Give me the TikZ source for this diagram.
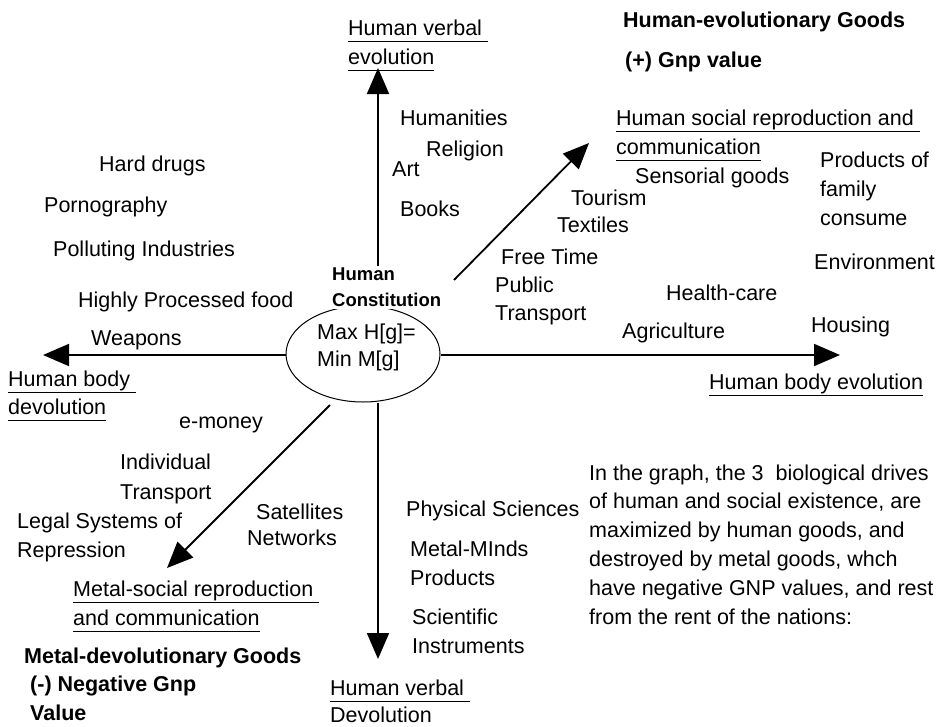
\documentclass[tikz,border=0pt]{standalone}
\usepackage{fontspec}
\setmainfont{Liberation Sans}
\usetikzlibrary{arrows.meta,shapes.geometric}
\newcommand\myul[1]{\underline{\vphantom{gy}#1}}
\begin{document}
\begin{tikzpicture}[x=1pt,y=-1pt,
  t/.style={anchor=base west,inner sep=0pt,font=\fontsize{21.5}{26}\selectfont},
  tb/.style={anchor=base west,inner sep=0pt,font=\fontsize{21.5}{26}\selectfont\bfseries},
  arr/.style={line width=1.8pt,-{Triangle[length=26pt,width=22pt]}}]
\useasboundingbox[fill=white] (0,0) rectangle (937,726);

% central ellipse
\node[draw,ellipse,line width=1pt,minimum width=154pt,minimum height=96pt,inner sep=0pt] (hc) at (363,354) {};
\node[anchor=north west,fill=white,inner sep=2pt,align=left,
      font=\fontsize{18.5}{26}\selectfont\bfseries] (title) at (330,266) {Human\\Constitution};
\node[t] (max) at (317,339) {Max H[g]=};
\node[t] (min) at (317,366) {Min M[g]};

% arrow end points
\coordinate (upT) at (378,68);
\coordinate (downT) at (378,659);
\coordinate (leftT) at (43,355);
\coordinate (rightT) at (840,355);
\coordinate (neS) at (454,280);
\coordinate (neT) at (589,143);
\coordinate (swS) at (330,405);
\coordinate (swT) at (167,568);

\draw[arr] (title.north -| upT) -- (upT);
\draw[arr] (hc.south -| downT) -- (downT);
\draw[arr] (hc.west |- leftT) -- (leftT);
\draw[arr] (hc.east |- rightT) -- (rightT);
\draw[arr] (neS) -- (neT);
\draw[arr] (swS) -- (swT);

% top
\node[t] (hve1) at (348,35) {\myul{Human verbal\ }};
\node[t] (hve2) at (348,64) {\myul{evolution}};
\node[t] (humanities) at (400,125) {Humanities};
\node[t] (religion) at (426,156) {Religion};
\node[t] (art) at (392,176) {Art};
\node[t] (books) at (400,216) {Books};

% upper left
\node[t] (drugs) at (99,171) {Hard drugs};
\node[t] (porn) at (44,212) {Pornography};
\node[t] (poll) at (53,256) {Polluting Industries};
\node[t] (hpf) at (78,307) {Highly Processed food};
\node[t] (weap) at (91,345) {Weapons};
\node[t] (hbd1) at (8,386) {\myul{Human body\ }};
\node[t] (hbd2) at (8,414) {\myul{devolution}};

% upper right
\node[tb] (heg) at (623,27) {Human-evolutionary Goods};
\node[tb] (gnp) at (625,67) {(+) Gnp value};
\node[t] (hsr1) at (616,125) {\myul{Human social reproduction and\ }};
\node[t] (hsr2) at (616,154) {\myul{communication}};
\node[t] (sens) at (635,183) {Sensorial goods};
\node[t] (prod1) at (820,167) {Products of};
\node[t] (prod2) at (820,196) {family};
\node[t] (prod3) at (820,225) {consume};
\node[t] (env) at (814,269) {Environment};
\node[t] (tour) at (571,205) {Tourism};
\node[t] (text) at (557,232) {Textiles};
\node[t] (free) at (501,264) {Free Time};
\node[t] (pub1) at (495,292) {Public};
\node[t] (pub2) at (495,320) {Transport};
\node[t] (health) at (666,300) {Health-care};
\node[t] (agri) at (622,338) {Agriculture};
\node[t] (house) at (811,332) {Housing};
\node[t] (hbe) at (709,389) {\myul{Human body evolution}};

% lower left
\node[t] (emoney) at (179,428) {e-money};
\node[t] (ind1) at (120,469) {Individual};
\node[t] (ind2) at (120,499) {Transport};
\node[t] (legal1) at (17,528) {Legal Systems of};
\node[t] (legal2) at (17,557) {Repression};
\node[t] (sat1) at (256,519) {Satellites};
\node[t] (sat2) at (247,545) {Networks};
\node[t] (msr1) at (73,596) {\myul{Metal-social reproduction\ }};
\node[t] (msr2) at (73,625) {\myul{and communication}};
\node[tb] (mdg) at (24,663) {Metal-devolutionary Goods};
\node[tb] (neg) at (30,691) {(-) Negative Gnp};
\node[tb] (val) at (30,720) {Value};

% bottom
\node[t] (hvd1) at (330,695) {\myul{Human verbal\ }};
\node[t] (hvd2) at (330,722) {\myul{Devolution}};
\node[t] (phys) at (406,516) {Physical Sciences};
\node[t] (mm1) at (410,556) {Metal-MInds};
\node[t] (mm2) at (410,585) {Products};
\node[t] (sci1) at (412,624) {Scientific};
\node[t] (sci2) at (412,653) {Instruments};

% paragraph
\node[t] (p1) at (589,480) {In the graph, the 3\ \ biological drives};
\node[t] (p2) at (589,508) {of human and social existence, are};
\node[t] (p3) at (589,537) {maximized by human goods, and};
\node[t] (p4) at (589,566) {destroyed by metal goods, whch};
\node[t] (p5) at (589,595) {have negative GNP values, and rest};
\node[t] (p6) at (589,624) {from the rent of the nations:};
\end{tikzpicture}
\end{document}
